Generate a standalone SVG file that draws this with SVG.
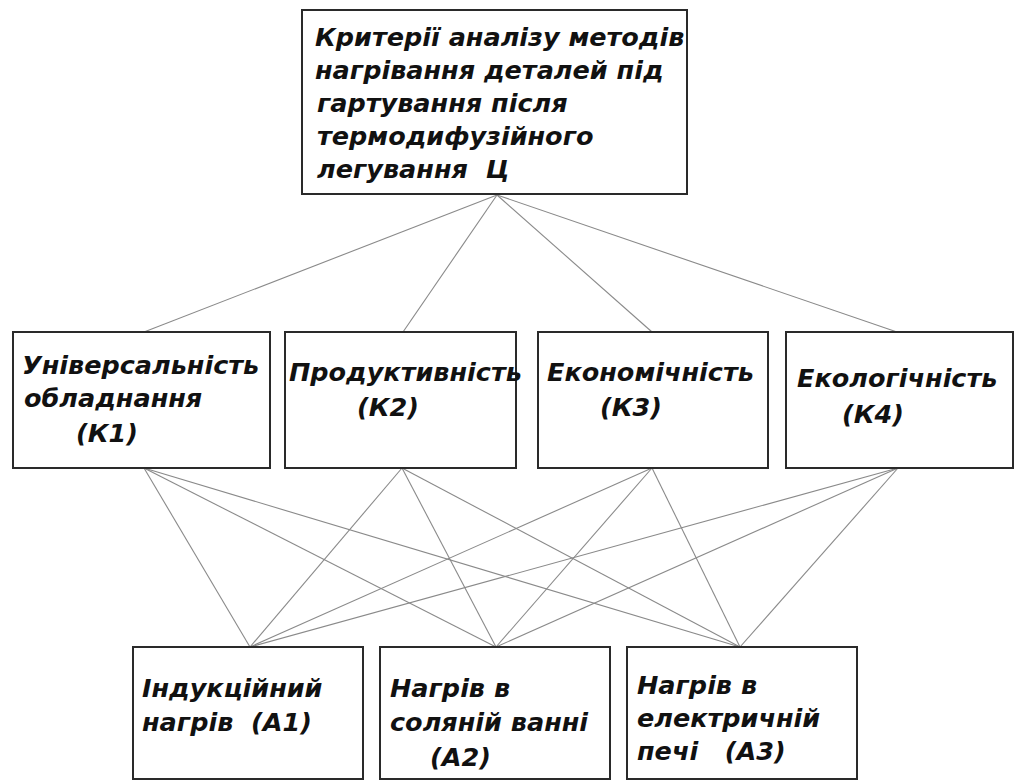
<svg xmlns="http://www.w3.org/2000/svg" width="1019" height="781" viewBox="0 0 1019 781">
<style>
.box{fill:#fff;stroke:#2a2a2a;stroke-width:2}
.c{stroke:#8a8a8a;stroke-width:1.1;fill:none}
text{font-family:"DejaVu Sans","Noto Sans",sans-serif;font-weight:bold;font-style:oblique;font-size:25.5px;fill:#111;white-space:pre}
</style>
<rect width="1019" height="781" fill="#fff"/>
<g id="connectors">
<line class="c" x1="497" y1="195" x2="144" y2="332"/>
<line class="c" x1="497" y1="195" x2="403" y2="332"/>
<line class="c" x1="497" y1="195" x2="652" y2="332"/>
<line class="c" x1="497" y1="195" x2="897" y2="332"/>
<line class="c" x1="144" y1="468" x2="250" y2="647"/>
<line class="c" x1="144" y1="468" x2="496" y2="647"/>
<line class="c" x1="144" y1="468" x2="740" y2="647"/>
<line class="c" x1="402" y1="468" x2="250" y2="647"/>
<line class="c" x1="402" y1="468" x2="496" y2="647"/>
<line class="c" x1="402" y1="468" x2="740" y2="647"/>
<line class="c" x1="652" y1="468" x2="250" y2="647"/>
<line class="c" x1="652" y1="468" x2="496" y2="647"/>
<line class="c" x1="652" y1="468" x2="740" y2="647"/>
<line class="c" x1="898" y1="468" x2="250" y2="647"/>
<line class="c" x1="898" y1="468" x2="496" y2="647"/>
<line class="c" x1="898" y1="468" x2="740" y2="647"/>
</g>
<g id="goal">
<rect class="box" x="302" y="10" width="385" height="184"/>
<text x="315" y="46" xml:space="preserve">Критерії аналізу методів</text>
<text x="315" y="79" xml:space="preserve">нагрівання деталей під</text>
<text x="317" y="112" xml:space="preserve">гартування після</text>
<text x="317" y="145" xml:space="preserve">термодифузійного</text>
<text x="317" y="178" xml:space="preserve">легування  Ц</text>
</g>
<g id="k1">
<rect class="box" x="13" y="332" width="257" height="136"/>
<text x="22" y="374">Універсальність</text>
<text x="24" y="407">обладнання</text>
<text x="76" y="442">(К1)</text>
</g>
<g id="k2">
<rect class="box" x="285" y="332" width="231" height="136"/>
<text x="289" y="381">Продуктивність</text>
<text x="357" y="416">(К2)</text>
</g>
<g id="k3">
<rect class="box" x="538" y="332" width="230" height="136"/>
<text x="547" y="381">Економічність</text>
<text x="600" y="416">(К3)</text>
</g>
<g id="k4">
<rect class="box" x="786" y="332" width="227" height="136"/>
<text x="797" y="387">Екологічність</text>
<text x="842" y="423">(К4)</text>
</g>
<g id="a1">
<rect class="box" x="133" y="647" width="230" height="132"/>
<text x="142" y="697">Індукційний</text>
<text x="142" y="731" xml:space="preserve">нагрів  (А1)</text>
</g>
<g id="a2">
<rect class="box" x="380" y="647" width="230" height="132"/>
<text x="390" y="697" xml:space="preserve">Нагрів в</text>
<text x="390" y="731" xml:space="preserve">соляній ванні</text>
<text x="430" y="766">(А2)</text>
</g>
<g id="a3">
<rect class="box" x="627" y="647" width="230" height="132"/>
<text x="637" y="694" xml:space="preserve">Нагрів в</text>
<text x="637" y="727" xml:space="preserve">електричній</text>
<text x="637" y="760" xml:space="preserve">печі   (А3)</text>
</g>
</svg>
